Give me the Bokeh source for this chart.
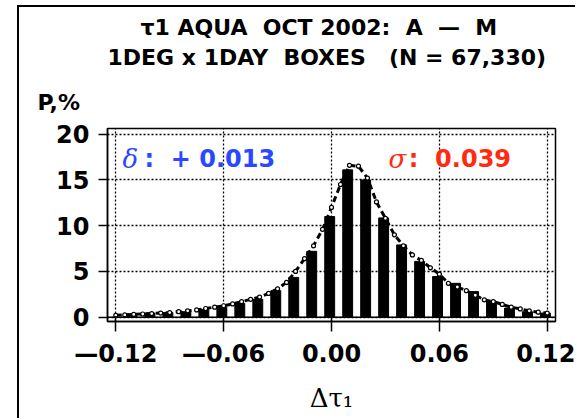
from bokeh.plotting import figure
from bokeh.models import ColumnDataSource, Label, Span, FixedTicker, Title
from bokeh.transform import dodge
from bokeh.embed import file_html
from bokeh.resources import INLINE

# ---- data ----
bin_centers = [-0.11, -0.10, -0.09, -0.08, -0.07, -0.06, -0.05, -0.04, -0.03, -0.02, -0.01, 0.00,
               0.01, 0.02, 0.03, 0.04, 0.05, 0.06, 0.07, 0.08, 0.09, 0.10, 0.11, 0.12]
bar_pct = [0.3, 0.45, 0.5, 0.6, 0.85, 1.1, 1.5, 1.95, 2.9, 4.35, 7.2, 11.0,
           16.1, 15.0, 10.85, 7.9, 6.1, 4.45, 3.7, 2.8, 1.7, 1.0, 0.6, 0.45]

curve_x = [-0.12, -0.115, -0.11, -0.105, -0.10, -0.095, -0.09, -0.085, -0.08, -0.075,
           -0.07, -0.065, -0.06, -0.055, -0.05, -0.045, -0.04, -0.035, -0.03, -0.025,
           -0.02, -0.015, -0.01, -0.005, 0.0, 0.005, 0.01, 0.015, 0.02, 0.025,
           0.03, 0.035, 0.04, 0.045, 0.05, 0.055, 0.06, 0.065, 0.07, 0.075,
           0.08, 0.085, 0.09, 0.095, 0.10, 0.105, 0.11, 0.115, 0.12]
curve_pct = [0.2, 0.25, 0.3, 0.35, 0.4, 0.45, 0.5, 0.6, 0.7, 0.8,
             0.95, 1.1, 1.25, 1.45, 1.7, 1.95, 2.2, 2.6, 3.1, 3.8,
             5.0, 6.4, 7.8, 9.6, 12.0, 14.5, 16.6, 16.5, 15.2, 12.6,
             10.8, 9.0, 7.8, 6.8, 6.2, 5.4, 4.7, 3.7, 3.3, 2.9,
             2.4, 1.9, 1.7, 1.4, 1.1, 0.9, 0.7, 0.55, 0.45]

x_ticks = [-0.12, -0.06, 0.0, 0.06, 0.12]
x_tick_labels = ["\u20140.12", "\u20140.06", "0.00", "0.06", "0.12"]
y_ticks = [0, 5, 10, 15, 20]

title1 = "\u03c41 AQUA\u00a0 OCT 2002:\u00a0 A\u00a0 \u2014\u00a0 M"
title2 = "1DEG x 1DAY\u00a0 BOXES\u00a0\u00a0 (N\u00a0=\u00a067,330)"
y_title = "P,%"
x_title = "\u0394\u03c4\u2081"
mean_sym = "\u03b4"
mean_text = ":\u00a0\u00a0+\u00a00.013"
sigma_sym = "\u03c3"
sigma_text = ":\u00a0\u00a00.039"

# ---- figure ----
p = figure(width=558, height=413, x_range=(-0.1246, 0.1246), y_range=(-0.47, 20.62),
           output_backend="svg", toolbar_location=None,
           min_border_left=88, min_border_right=22, min_border_top=121, min_border_bottom=99)
p.margin = (5, 0, 0, 17)
p.styles = {"border-left": "2px solid black", "border-top": "2px solid black"}

p.background_fill_color = "white"
p.border_fill_color = "white"
p.outline_line_color = "black"
p.outline_line_width = 1.5

bars = ColumnDataSource(dict(x=bin_centers, top=bar_pct))
curve = ColumnDataSource(dict(x=curve_x, y=curve_pct))

p.vbar(x=dodge("x", -0.001, range=p.x_range), top="top", bottom=0, width=0.0055,
       source=bars, fill_color="black", line_color="black")
p.line("x", "y", source=curve, line_color="black", line_width=3, line_dash="6 4")
p.scatter("x", "y", source=curve, marker="circle", size=4, fill_color="white",
          line_color="black", line_width=1.2)

p.add_layout(Span(location=0, dimension="width", line_color="black", line_width=1.5))

# grid
for g in (p.xgrid, p.ygrid):
    g.grid_line_color = "black"
    g.grid_line_dash = "2 2"
    g.grid_line_width = 1.3
p.xgrid.ticker = FixedTicker(ticks=x_ticks)
p.ygrid.ticker = FixedTicker(ticks=y_ticks)

# axes
p.xaxis.ticker = FixedTicker(ticks=x_ticks)
p.xaxis.major_label_overrides = {t: s for t, s in zip(x_ticks, x_tick_labels)}
p.yaxis.ticker = FixedTicker(ticks=y_ticks)
for ax in (p.xaxis[0], p.yaxis[0]):
    ax.axis_line_color = "black"
    ax.axis_line_width = 1.5
    ax.major_tick_line_color = "black"
    ax.major_tick_line_width = 1.5
    ax.minor_tick_line_color = None
    ax.major_label_text_font = "DejaVu Sans"
    ax.major_label_text_font_style = "bold"
    ax.major_label_text_font_size = "24px"
    ax.major_label_text_color = "black"
p.xaxis.major_tick_out = 10
p.xaxis.major_tick_in = 5
p.xaxis.major_label_standoff = 8
p.yaxis.major_tick_out = 9
p.yaxis.major_tick_in = 0
p.yaxis.major_label_standoff = 9

p.xaxis.axis_label = x_title
p.xaxis.axis_label_text_font = "DejaVu Serif"
p.xaxis.axis_label_text_font_style = "normal"
p.xaxis.axis_label_text_font_size = "26px"
p.xaxis.axis_label_text_color = "black"
p.xaxis.axis_label_standoff = 12

# titles (added from the frame outward)
p.add_layout(Title(text=y_title, align="left", offset=-70, standoff=28,
                   text_font="DejaVu Sans", text_font_style="bold", text_color="black",
                   text_font_size="22px"), "above")
p.add_layout(Title(text=title2, align="left", offset=0, standoff=7,
                   text_font="DejaVu Sans", text_font_style="bold", text_color="black",
                   text_font_size="22px"), "above")
p.add_layout(Title(text=title1, align="left", offset=33, standoff=0,
                   text_font="DejaVu Sans", text_font_style="bold", text_color="black",
                   text_font_size="22px"), "above")

# stats texts inside the frame
def lab(x, y, text, size, color, font="DejaVu Sans", style="bold"):
    p.add_layout(Label(x=x, y=y, text=text, text_font_size=size, text_color=color,
                       text_align="left", text_baseline="alphabetic",
                       text_font=font, text_font_style=style))

blue = "#2a48ff"
red = "#ff2a10"
lab(-0.1163, 17.3, mean_sym, "26px", blue, font="DejaVu Serif", style="italic")
lab(-0.1040, 17.3, mean_text, "24px", blue)
lab(0.0317, 17.3, sigma_sym, "26px", red, font="DejaVu Serif", style="italic")
lab(0.0430, 17.3, sigma_text, "24px", red)

open("out.html", "w").write(file_html(p, INLINE))
